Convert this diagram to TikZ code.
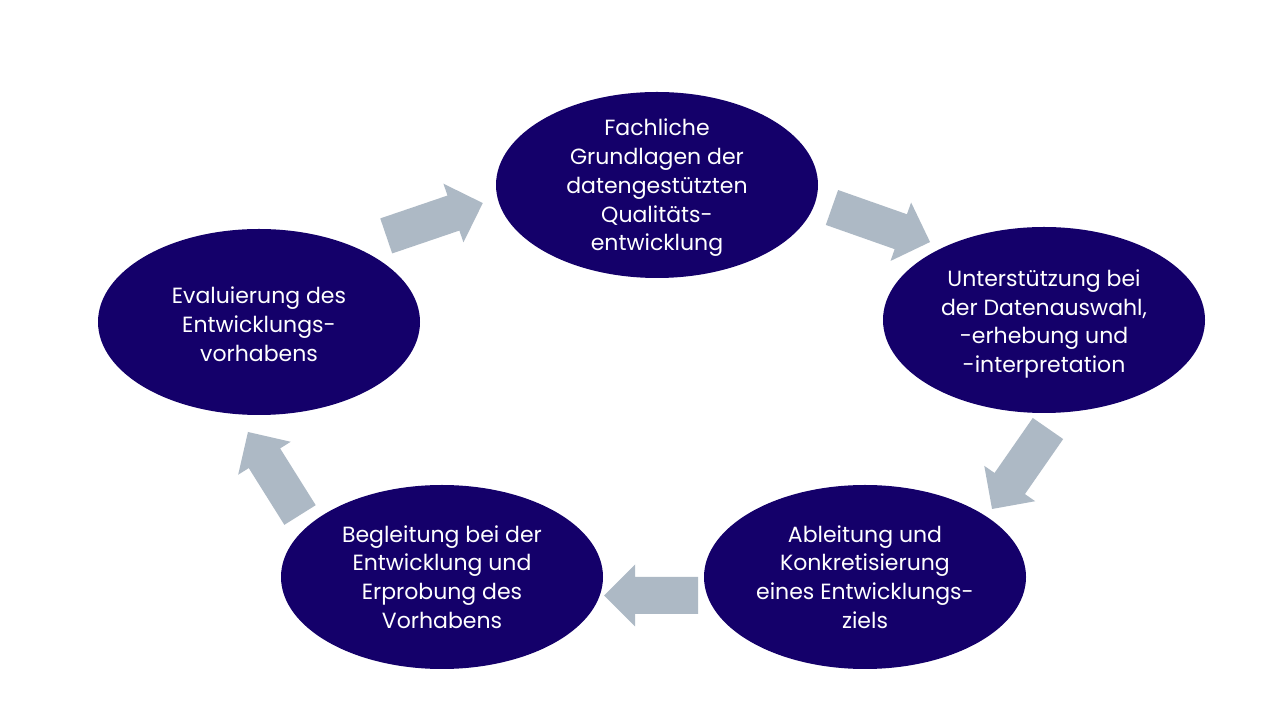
\documentclass[tikz,border=0pt]{standalone}
\usepackage{fontspec}
\setmainfont{Poppins}
\usetikzlibrary{shapes.geometric}
\definecolor{navy}{HTML}{14006A}
\definecolor{arrowgrey}{HTML}{ADB9C5}
\tikzset{
  bubble/.style={ellipse, fill=navy, draw=none, inner sep=0pt, minimum width=322pt, minimum height=186pt},
  bubbletext/.style={text=white, align=center, font=\fontsize{22}{28.8}\selectfont, inner sep=0pt},
  blk/.pic={\fill[arrowgrey] ({-#1/2},-18.5) -- ({#1/2-31},-18.5) -- ({#1/2-31},-31) -- ({#1/2},0) -- ({#1/2-31},31) -- ({#1/2-31},18.5) -- ({-#1/2},18.5) -- cycle;}
}
\begin{document}
\begin{tikzpicture}[x=1pt,y=1pt]
\useasboundingbox[fill=white] (0,0) rectangle (1280,720);
% ellipses
\node[bubble] (e1) at (657,535) {};
\node[bubble] (e2) at (1044,400) {};
\node[bubble, minimum height=184pt] (e3) at (865,143) {};
\node[bubble, minimum height=184pt] (e4) at (442,143) {};
\node[bubble] (e5) at (259,398) {};
% texts
\node[bubbletext] (t1) at ([yshift=-3pt]e1.center) {Fachliche\\Grundlagen der\\datengestützten\\Qualitäts-\\entwicklung};
\node[bubbletext] (t2) at ([yshift=-4pt]e2.center) {Unterstützung bei\\der Datenauswahl,\\-erhebung und\\-interpretation};
\node[bubbletext] (t3) at (e3.center) {Ableitung und\\Konkretisierung\\eines Entwicklungs-\\ziels};
\node[bubbletext] (t4) at (e4.center) {Begleitung bei der\\Entwicklung und\\Erprobung des\\Vorhabens};
\node[bubbletext] (t5) at ([yshift=-2pt]e5.center) {Evaluierung des\\Entwicklungs-\\vorhabens};
% block arrows
\pic[rotate=18.8] at (434.5,500.5) {blk=102};
\pic[rotate=-19.4] at (881,495.25) {blk=104};
\pic[rotate=235.2] at (1020,251.25) {blk=98};
\pic[rotate=180] at (651,124.5) {blk=94};
\pic[rotate=122.1] at (274,246.5) {blk=98};
\end{tikzpicture}
\end{document}
